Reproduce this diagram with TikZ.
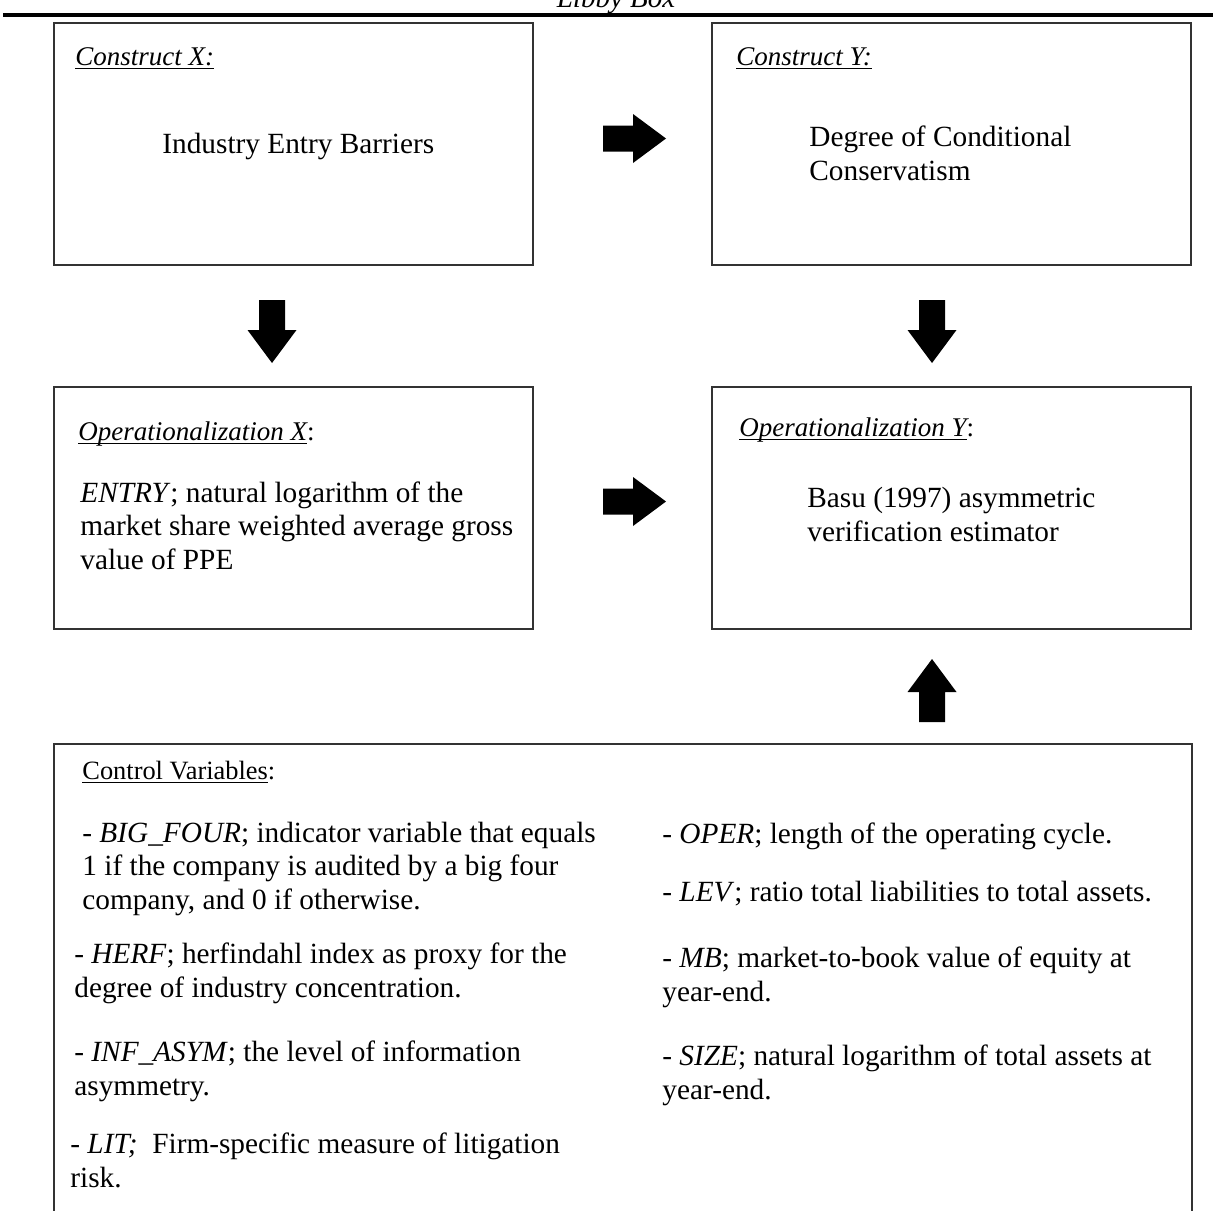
\documentclass[tikz,border=0pt]{standalone}
\usepackage{fontspec}
\setmainfont{Liberation Serif}
\usetikzlibrary{calc}

% underline a bit closer to the baseline than \underline
\newcommand{\ulbox}[1]{\setbox0\hbox{#1}\rlap{\rule[-2pt]{\wd0}{0.7pt}}\box0}

\tikzset{
  boxline/.style={draw=black!80, line width=0.75pt},
  box/.style={boxline, anchor=north west, inner sep=0pt, outer sep=0pt,
    minimum width=239.5pt, minimum height=121pt},
  body/.style={anchor=base west, align=left, inner sep=0pt,
    font=\fontsize{14.65}{16.75}\selectfont},
  head/.style={anchor=base west, inner sep=0pt,
    font=\fontsize{13.5}{15}\selectfont},
  small/.style={anchor=base west, inner sep=0pt,
    font=\fontsize{13.2}{15}\selectfont},
  blockarrow/.pic={
    \fill (-31.5,-13) -- (-1.5,-13) -- (-1.5,-24.5) -- (31.5,0)
      -- (-1.5,24.5) -- (-1.5,13) -- (-31.5,13) -- cycle;
  }
}

\begin{document}
\begin{tikzpicture}[x=0.5pt,y=-0.5pt]
  \useasboundingbox (0,0) rectangle (1213,1210);

  % heading and rule (cut at the top)
  \node (title) at (616,7) [anchor=base, inner sep=0pt,
    font=\fontsize{14.5}{16}\selectfont\itshape] {Libby Box};
  \coordinate (ruleL) at (3,14.7);
  \coordinate (ruleR) at (1213,14.7);
  \draw[line width=2pt] (ruleL) -- (ruleR);

  % the four boxes
  \node (conX) [box] at (54,23) {};
  \node (conY) [box] at (712,23) {};
  \node (opX)  [box] at (54,387) {};
  \node (opY)  [box] at (712,387) {};

  % control variables, open at the bottom
  \node (ctl) [anchor=north west, inner sep=0pt, outer sep=0pt,
    minimum width=569pt, minimum height=243pt] at (54,744) {};
  \draw[boxline] (ctl.south west) -- (ctl.north west) -- (ctl.north east) -- (ctl.south east);

  % texts in the boxes (y = baseline of the last line)
  \node (conXh) [head] at (75,65) {\ulbox{\itshape Construct X:}};
  \node (conXt) [body] at (162,153) {Industry Entry Barriers};
  \node (conYh) [head] at (736,65) {\ulbox{\itshape Construct Y:}};
  \node (conYt) [body] at (809,180) {Degree of Conditional\\Conservatism};

  \node (opXh) [head] at (78,440) {\ulbox{\itshape Operationalization X}:};
  \node (opXt) [body] at (80,569) {\textit{ENTRY}; natural logarithm of the\\
    market share weighted average gross\\value of PPE};
  \node (opYh) [head] at (739,436) {\ulbox{\itshape Operationalization Y}:};
  \node (opYt) [body] at (807,541) {Basu (1997) asymmetric\\verification estimator};

  \node (ctlh) [small] at (82,779) {\ulbox{Control Variables}:};
  \node (bigfour) [body] at (82,909) {- \textit{BIG\_FOUR}; indicator variable that equals\\
    1 if the company is audited by a big four\\company, and 0 if otherwise.};
  \node (herf) [body] at (74,997) {- \textit{HERF}; herfindahl index as proxy for the\\
    degree of industry concentration.};
  \node (infasym) [body] at (74,1095) {- \textit{INF\_ASYM}; the level of information\\asymmetry.};
  \node (lit) [body] at (70,1187) {- \textit{LIT;}\ \ Firm-specific measure of litigation\\risk.};

  \node (oper) [body] at (662,843) {- \textit{OPER}; length of the operating cycle.};
  \node (lev)  [body] at (662,901) {- \textit{LEV}; ratio total liabilities to total assets.};
  \node (mb)   [body] at (662,1001) {- \textit{MB}; market-to-book value of equity at\\year-end.};
  \node (size) [body] at (662,1099) {- \textit{SIZE}; natural logarithm of total assets at\\year-end.};

  % block arrows
  \pic at (634.5,138.5) {blockarrow};
  \pic at (634.5,501.5) {blockarrow};
  \pic[rotate=-90] at (272,331.5) {blockarrow};
  \pic[rotate=-90] at (932,331.5) {blockarrow};
  \pic[rotate=90] at (932,690.5) {blockarrow};
\end{tikzpicture}
\end{document}
